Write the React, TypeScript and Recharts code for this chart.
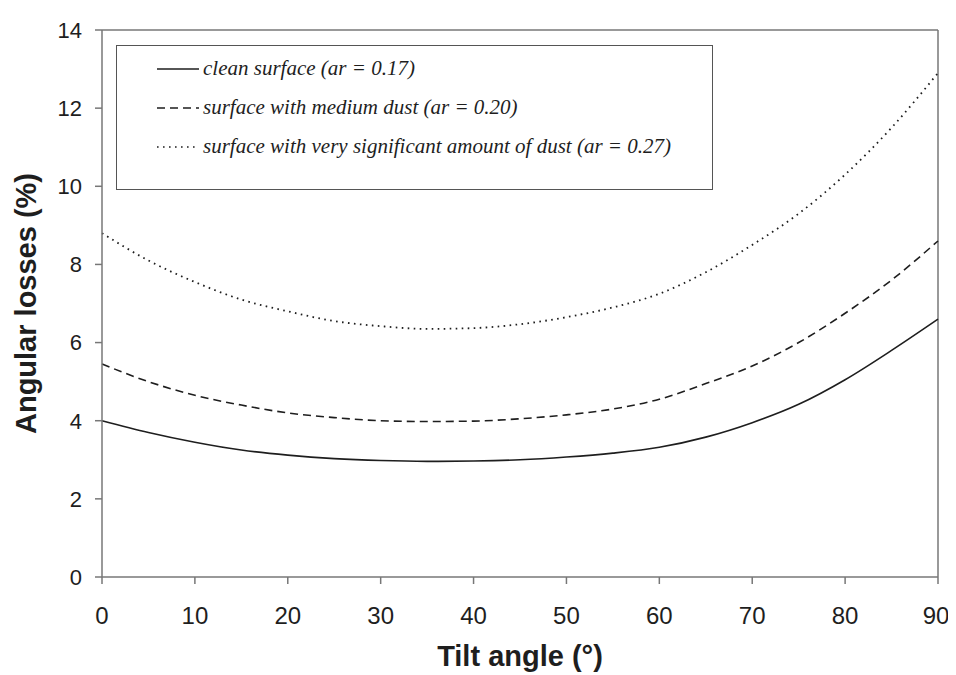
import { Label, Legend, Line, LineChart, ReferenceLine, XAxis, YAxis } from "recharts";

const tiltAngles = [0, 5, 10, 15, 20, 25, 30, 35, 40, 45, 50, 55, 60, 65, 70, 75, 80, 85, 90];
const cleanLoss = [4.0, 3.7, 3.45, 3.25, 3.12, 3.03, 2.98, 2.96, 2.97, 3.0, 3.07, 3.17, 3.32, 3.58, 3.95, 4.42, 5.05, 5.8, 6.6];
const mediumDustLoss = [5.45, 5.0, 4.65, 4.4, 4.2, 4.08, 4.0, 3.98, 3.99, 4.05, 4.15, 4.3, 4.55, 4.95, 5.4, 6.0, 6.75, 7.6, 8.6];
const heavyDustLoss = [8.8, 8.1, 7.55, 7.1, 6.8, 6.55, 6.42, 6.35, 6.37, 6.47, 6.65, 6.9, 7.25, 7.8, 8.5, 9.3, 10.3, 11.5, 12.9];

const xTicks = [0, 10, 20, 30, 40, 50, 60, 70, 80, 90];
const yTicks = [0, 2, 4, 6, 8, 10, 12, 14];

const seriesNames = [
  "clean surface (ar = 0.17)",
  "surface with medium dust (ar = 0.20)",
  "surface with very significant amount of dust (ar = 0.27)",
];

const data = tiltAngles.map((angle, i) => ({
  angle,
  clean: cleanLoss[i],
  medium: mediumDustLoss[i],
  heavy: heavyDustLoss[i],
}));

const series = [
  { key: "clean", name: seriesNames[0], dash: undefined as string | undefined, width: 1.6 },
  { key: "medium", name: seriesNames[1], dash: "8 5", width: 1.6 },
  { key: "heavy", name: seriesNames[2], dash: "1.6 4.4", width: 1.8 },
];

const AXIS = "#777";
const INK = "#1e1e1e";
const SANS = "Liberation Sans, Arial, sans-serif";
const titleStyle = { fontSize: 29, fontWeight: 700, fill: INK, fontFamily: SANS };

function LegendBox() {
  return (
    <div
      style={{
        width: 597,
        height: 145,
        border: "1.5px solid #555",
        boxSizing: "border-box",
        paddingTop: 3,
        paddingLeft: 40,
        fontFamily: "Liberation Serif, Times New Roman, serif",
        fontStyle: "italic",
        fontSize: 21,
        color: INK,
      }}
    >
      {series.map((s) => (
        <div key={s.key} style={{ display: "flex", alignItems: "center", height: 39 }}>
          <svg width={42} height={10} style={{ marginRight: 4 }}>
            <line x1={0} y1={5} x2={42} y2={5} stroke={INK} strokeWidth={1.4} strokeDasharray={s.dash} />
          </svg>
          <span>{s.name}</span>
        </div>
      ))}
    </div>
  );
}

export default function App() {
  return (
    <LineChart width={940} height={667} data={data} margin={{ top: 22, right: 10, left: 34, bottom: 7 }}>
      <XAxis
        dataKey="angle"
        type="number"
        domain={[0, 90]}
        ticks={xTicks}
        height={91}
        stroke={AXIS}
        strokeWidth={1.5}
        tickSize={7}
        tick={{ fontSize: 24, fill: INK, fontFamily: SANS }}
        tickMargin={23}
      >
        <Label value="Tilt angle (°)" position="insideBottom" offset={2} style={titleStyle} />
      </XAxis>
      <YAxis
        type="number"
        domain={[0, 14]}
        ticks={yTicks}
        width={60}
        stroke={AXIS}
        strokeWidth={1.5}
        tickSize={7}
        tick={{ fontSize: 22, fill: INK, fontFamily: SANS }}
        tickMargin={13}
      >
        <Label
          value="Angular losses (%)"
          angle={-90}
          position="insideLeft"
          offset={-16}
          style={{ ...titleStyle, textAnchor: "middle" }}
        />
      </YAxis>
      <ReferenceLine y={14} stroke={AXIS} strokeWidth={1.5} />
      <ReferenceLine x={90} stroke={AXIS} strokeWidth={1.5} />
      <Legend
        layout="vertical"
        align="center"
        verticalAlign="middle"
        content={() => <LegendBox />}
        wrapperStyle={{ left: 108, top: 37, width: 597, height: 145 }}
      />
      {series.map((s) => (
        <Line
          key={s.key}
          dataKey={s.key}
          name={s.name}
          type="monotone"
          stroke={INK}
          strokeWidth={s.width}
          strokeDasharray={s.dash}
          dot={false}
          activeDot={false}
          isAnimationActive={false}
        />
      ))}
    </LineChart>
  );
}
